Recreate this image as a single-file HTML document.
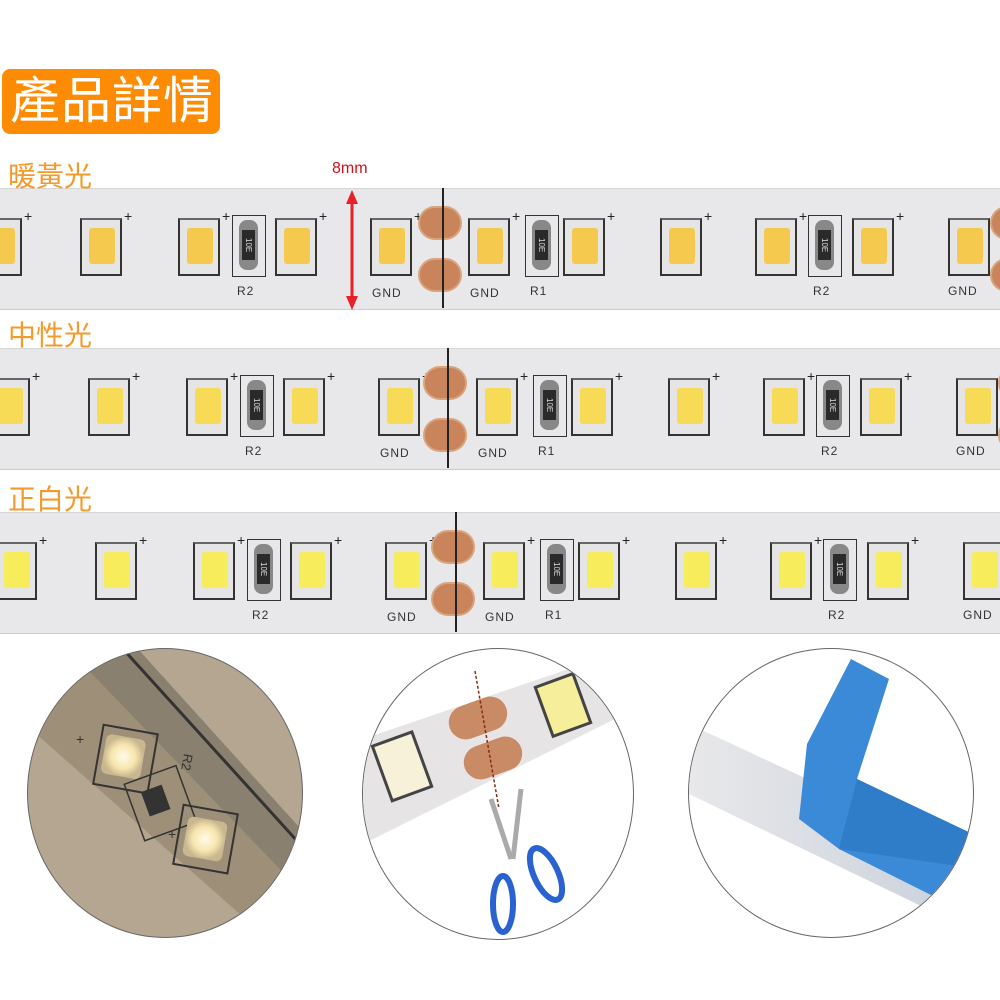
<!DOCTYPE html>
<html><head><meta charset="utf-8"><style>
body{margin:0;width:1000px;height:1000px;background:#fff;position:relative;overflow:hidden;font-family:"Liberation Sans","Noto Sans CJK TC",sans-serif}
.a{position:absolute}
.title{left:2px;top:69px;width:218px;height:65px;background:#fd8c04;border-radius:8px;color:#fff;font-size:50px;line-height:65px;text-indent:8px;letter-spacing:1px}
.lbl{color:#f39a2c;font-size:28px;left:8px;line-height:1;z-index:5}
.strip{left:0;width:1000px;height:120px;background:#e8e7e9;border-top:1px solid #d6d6d6;border-bottom:1px solid #ccc}
.led{width:42px;height:58px;border:2px solid #333;border-top-color:#666;background:#e6e5e6;box-sizing:border-box}
.led i{position:absolute;left:7px;top:8px;width:26px;height:36px;border-radius:3px}
.plus{font-size:14px;color:#222}
.res{width:34px;height:62px;border:1.5px solid #333;box-sizing:border-box}
.res i{position:absolute;left:6px;top:4px;width:19px;height:50px;border-radius:8px;background:#888}
.res b{position:absolute;left:9px;top:14px;width:13px;height:30px;background:#2a2a2a;color:#ddd;font-size:8px;font-weight:normal;writing-mode:vertical-rl;text-align:center;line-height:13px}
.pad{width:44px;height:34px;border-radius:17px;background:#c9845c;border:2px solid #d8a47c;box-sizing:border-box}
.sm{font-size:12px;color:#333;letter-spacing:1px}
.circ{border-radius:50%;overflow:hidden;border:1.5px solid #666;box-sizing:border-box}
</style></head><body>
<div class="a title">產品詳情</div>
<div id="strips"></div>
<div class="a lbl" style="top:163px">暖黃光</div>
<div class="a lbl" style="top:322px">中性光</div>
<div class="a lbl" style="top:486px">正白光</div>
<div class="a" style="left:332px;top:160px;color:#d4101c;font-size:16px">8mm</div>
<svg class="a" style="left:344px;top:190px" width="16" height="120"><line x1="8" y1="10" x2="8" y2="110" stroke="#e8202a" stroke-width="3"/><polygon points="8,0 2,14 14,14" fill="#e8202a"/><polygon points="8,120 2,106 14,106" fill="#e8202a"/></svg>

<div class="a circ" style="left:27px;top:648px;width:276px;height:290px;background:#b4a690">
<svg width="276" height="290"><defs><radialGradient id="g1"><stop offset="0" stop-color="#fffbe8"/><stop offset=".6" stop-color="#f8e6b0"/><stop offset="1" stop-color="#c9b88f"/></radialGradient></defs>
<polygon points="-20,0 90,0 300,230 300,290 240,290 -20,60" fill="#9e9078"/>
<polygon points="40,0 110,0 300,210 300,270" fill="#8a8070"/>
<line x1="95" y1="0" x2="290" y2="215" stroke="#333" stroke-width="3"/>
<rect x="70" y="80" width="55" height="60" fill="none" stroke="#333" stroke-width="2" transform="rotate(10 97 110)"/>
<rect x="75" y="88" width="40" height="40" rx="6" fill="url(#g1)" transform="rotate(10 97 110)"/>
<rect x="105" y="125" width="55" height="60" fill="none" stroke="#333" stroke-width="1.5" transform="rotate(-20 130 155)"/>
<rect x="118" y="138" width="22" height="26" fill="#333" transform="rotate(-20 130 155)"/>
<rect x="150" y="160" width="55" height="60" fill="none" stroke="#333" stroke-width="2" transform="rotate(10 177 190)"/>
<rect x="157" y="170" width="40" height="40" rx="6" fill="url(#g1)" transform="rotate(10 177 190)"/>
<text x="48" y="95" font-size="14" fill="#333">+</text><text x="140" y="190" font-size="14" fill="#333">+</text>
<text x="155" y="115" font-size="13" fill="#333" transform="rotate(100 160 110)">R2</text>
</svg></div>

<div class="a circ" style="left:362px;top:648px;width:272px;height:292px;background:#fff">
<svg width="272" height="292">
<polygon points="0,90 235,10 272,20 272,60 0,195" fill="#e6e4e4"/>
<rect x="18" y="88" width="42" height="58" fill="#f6f1d8" stroke="#444" stroke-width="3" transform="rotate(-20 40 117)"/>
<rect x="180" y="30" width="40" height="52" fill="#f6ee9a" stroke="#444" stroke-width="3" transform="rotate(-20 200 56)"/>
<rect x="85" y="52" width="60" height="34" rx="17" fill="#c98a66" transform="rotate(-20 115 69)"/>
<rect x="100" y="92" width="60" height="34" rx="17" fill="#c98a66" transform="rotate(-20 130 109)"/>
<line x1="112" y1="22" x2="136" y2="160" stroke="#8a2a10" stroke-width="1.5" stroke-dasharray="3,2"/>
<line x1="128" y1="150" x2="148" y2="210" stroke="#aaa" stroke-width="5"/>
<line x1="158" y1="140" x2="150" y2="210" stroke="#aaa" stroke-width="5"/>
<ellipse cx="140" cy="255" rx="10" ry="28" fill="none" stroke="#2a62d0" stroke-width="6"/>
<ellipse cx="183" cy="225" rx="12" ry="28" fill="none" stroke="#2a62d0" stroke-width="6" transform="rotate(-25 183 225)"/>
</svg></div>

<div class="a circ" style="left:688px;top:648px;width:286px;height:290px;background:#fff">
<svg width="286" height="290">
<defs><linearGradient id="w" x1="0" y1="0" x2="1" y2="0"><stop offset="0" stop-color="#e8e8ea"/><stop offset="1" stop-color="#c8d0dc"/></linearGradient></defs>
<polygon points="0,75 290,210 290,285 0,145" fill="url(#w)"/>
<polygon points="118,95 162,10 200,30 168,130 290,188 290,270 150,200 110,170" fill="#3b8ad8"/>
<polygon points="150,200 168,130 290,188 290,220" fill="#2f7cc8"/>
</svg></div>

<script>
const cfg=[{top:188,off:0,tint:"#f5c94e",cut:442},{top:348,off:8,tint:"#f7da55",cut:447},{top:512,off:15,tint:"#f6ec5c",cut:455}];
const xs=[-20,80,178,275,370,468,563,660,755,852,948];
let h="";
cfg.forEach(c=>{
 h+=`<div class="a strip" style="top:${c.top}px"></div>`;
 const t=c.top+30;
 xs.forEach(x=>{x+=c.off;h+=`<div class="a led" style="left:${x}px;top:${t}px"><i style="background:${c.tint}"></i></div><div class="a plus" style="left:${x+44}px;top:${t-10}px">+</div>`});
 [232,525,808].forEach((x,k)=>{x+=c.off;h+=`<div class="a res" style="left:${x}px;top:${t-3}px"><i></i><b>10E</b></div><div class="a sm" style="left:${x+5}px;top:${t+66}px">${k==1?'R1':'R2'}</div>`});
 [0,1].forEach(k=>{h+=`<div class="a pad" style="left:${c.cut-24}px;top:${c.top+18+k*52}px"></div>`});
 h+=`<div class="a" style="left:${c.cut}px;top:${c.top}px;width:2px;height:120px;background:#222"></div>`;
 h+=`<div class="a sm" style="left:${c.off+372}px;top:${t+68}px">GND</div><div class="a sm" style="left:${c.off+470}px;top:${t+68}px">GND</div><div class="a sm" style="left:${c.off+948}px;top:${t+66}px">GND</div>`;
 h+=`<div class="a pad" style="left:${c.off+990}px;top:${c.top+18}px;width:40px"></div><div class="a pad" style="left:${c.off+990}px;top:${c.top+70}px;width:40px"></div>`;
});
document.getElementById("strips").innerHTML=h;
</script>
</body></html>
